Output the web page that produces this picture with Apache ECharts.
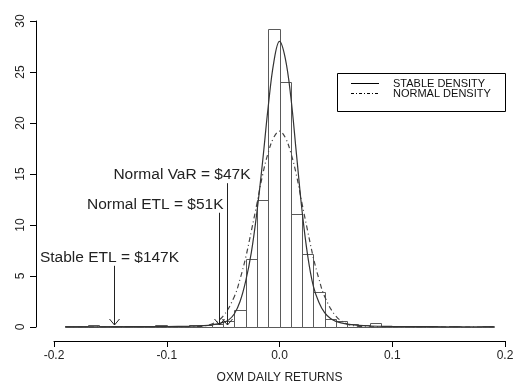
<!DOCTYPE html>
<html>
<head>
<meta charset="utf-8">
<script src="https://cdn.jsdelivr.net/npm/echarts@6/dist/echarts.min.js"></script>
<style>html,body{margin:0;padding:0;background:#fff}#c{width:515px;height:386px}</style>
</head>
<body>
<div id="c"></div>
<script>
// ---- data ----
var binLeft = [-0.19,-0.18,-0.17,-0.16,-0.15,-0.14,-0.13,-0.12,-0.11,-0.10,-0.09,-0.08,-0.07,-0.06,-0.05,-0.04,-0.03,-0.02,-0.01,0.00,0.01,0.02,0.03,0.04,0.05,0.06,0.07,0.08,0.09,0.10,0.11,0.12,0.13,0.14,0.15,0.16,0.17,0.18];
var binHeight = [0.1,0.1,0.2,0.1,0.1,0,0.1,0.1,0.2,0.1,0.1,0.15,0.2,0.3,0.6,1.7,6.7,12.5,29.2,24.0,11.1,7.2,3.4,0.8,0.6,0.3,0.2,0.4,0.1,0.1,0.05,0,0.05,0,0.05,0,0,0.05];
var binWidth = 0.01;

var stableX = [-0.19,-0.15,-0.12,-0.1,-0.08,-0.07,-0.06,-0.05,-0.045,-0.04,-0.035,-0.03,-0.025,-0.02,-0.015,-0.01,-0.005,0,0.005,0.01,0.015,0.02,0.025,0.03,0.035,0.04,0.045,0.05,0.06,0.07,0.08,0.1,0.12,0.15,0.19];
var stableY = [0.01,0.02,0.04,0.05,0.08,0.12,0.2,0.45,0.7,1.3,2.5,4.5,7.3,11.3,16.2,21.6,26.0,28.0,26.4,22.6,17.0,11.4,7.0,4.0,2.4,1.4,0.85,0.55,0.28,0.16,0.1,0.06,0.04,0.02,0.01];

var normalX = [-0.19,-0.1,-0.08,-0.07,-0.06,-0.05,-0.04,-0.035,-0.03,-0.025,-0.02,-0.015,-0.01,-0.005,0,0.005,0.01,0.015,0.02,0.025,0.03,0.035,0.04,0.05,0.06,0.07,0.08,0.1,0.19];
var normalY = [0,0,0.01,0.07,0.3,1.07,3.0,4.7,6.8,9.4,12.1,14.9,17.1,18.6,19.2,18.6,17.1,14.9,12.1,9.4,6.8,4.7,3.0,1.07,0.3,0.07,0.01,0,0];

var annX = [-0.147, -0.054, -0.047];
var annTop = [6.0, 11.2, 14.1];
var annLabel = ['Stable ETL = $147K', 'Normal ETL = $51K', 'Normal VaR = $47K'];

var xTicks = [-0.2, -0.1, 0.0, 0.1, 0.2];
var xTickLabels = ['-0.2', '-0.1', '0.0', '0.1', '0.2'];
var yTicks = [0, 5, 10, 15, 20, 25, 30];
var legendNames = ['STABLE DENSITY', 'NORMAL DENSITY'];

// ---- build ----
var FONT = "'Liberation Sans', Arial, sans-serif";
var histData = binLeft.map(function (x, i) { return [x, x + binWidth, binHeight[i]]; });
var stableData = stableX.map(function (x, i) { return [x, stableY[i]]; });
var normalData = normalX.map(function (x, i) { return [x, normalY[i]]; });
var annData = annX.map(function (x, i) { return [x, annTop[i], i]; });
var annTextStyle = [
  { dx: -5, align: 'center' },
  { dx: 4, align: 'right' },
  { dx: 23, align: 'right' }
];
var DASHDOT = [5, 3, 1, 3];

var chart = echarts.init(document.getElementById('c'), null, { renderer: 'canvas' });
chart.setOption({
  animation: false,
  backgroundColor: '#fff',
  textStyle: { fontFamily: FONT },
  grid: { left: 54, right: 10, top: 21, bottom: 59, containLabel: false, outerBoundsMode: 'none' },
  xAxis: {
    type: 'value', min: -0.2, max: 0.2, interval: 0.1, offset: 14,
    name: 'OXM DAILY RETURNS', nameLocation: 'middle', nameGap: 31,
    nameTextStyle: { fontSize: 12, color: '#222', fontFamily: FONT },
    axisLine: { show: true, onZero: false, lineStyle: { color: '#000', width: 1 } },
    axisTick: { show: true, length: 6, lineStyle: { color: '#000' } },
    axisLabel: { fontSize: 12, color: '#222', margin: 9, fontFamily: FONT,
      formatter: function (v) { var i = xTicks.findIndex(function (t) { return Math.abs(t - v) < 1e-9; }); return i >= 0 ? xTickLabels[i] : ''; } },
    splitLine: { show: false }
  },
  yAxis: {
    type: 'value', min: 0, max: 30, interval: 5, offset: 18,
    axisLine: { show: true, onZero: false, lineStyle: { color: '#000', width: 1 } },
    axisTick: { show: true, length: 6, lineStyle: { color: '#000' } },
    axisLabel: { fontSize: 12, color: '#222', rotate: 90, margin: 9, fontFamily: FONT },
    splitLine: { show: false }
  },
  graphic: [
    { type: 'rect', shape: { x: 337.5, y: 73.5, width: 168, height: 38 }, style: { fill: '#fff', stroke: '#000', lineWidth: 1 }, z: 10 },
    { type: 'line', shape: { x1: 351, y1: 83.5, x2: 379, y2: 83.5 }, style: { stroke: '#000', lineWidth: 1 }, z: 11 },
    { type: 'line', shape: { x1: 351, y1: 93.5, x2: 379, y2: 93.5 }, style: { stroke: '#000', lineWidth: 1, lineDash: [3, 2, 1, 2] }, z: 11 },
    { type: 'text', x: 393, y: 84, style: { text: legendNames[0], fontSize: 11, fontFamily: FONT, fill: '#111', verticalAlign: 'middle' }, z: 11 },
    { type: 'text', x: 393, y: 94, style: { text: legendNames[1], fontSize: 11, fontFamily: FONT, fill: '#111', verticalAlign: 'middle' }, z: 11 }
  ],
  series: [
    {
      type: 'custom', name: 'hist', z: 2,
      data: histData,
      encode: { x: [0, 1], y: 2 },
      renderItem: function (params, api) {
        var p0 = api.coord([api.value(0), api.value(2)]);
        var p1 = api.coord([api.value(1), 0]);
        return {
          type: 'rect',
          shape: { x: Math.round(p0[0]) + 0.5, y: Math.round(p0[1]) + 0.5, width: Math.round(p1[0]) - Math.round(p0[0]), height: Math.round(p1[1]) - Math.round(p0[1]) },
          style: { fill: null, stroke: '#5a5a5a', lineWidth: 1 }
        };
      }
    },
    {
      type: 'line', name: legendNames[0], z: 4, data: stableData, smooth: 0.4,
      showSymbol: false, symbol: 'none',
      lineStyle: { color: '#333', width: 1.2, type: 'solid' }
    },
    {
      type: 'line', name: legendNames[1], z: 3, data: normalData, smooth: 0.4,
      showSymbol: false, symbol: 'none',
      lineStyle: { color: '#444', width: 1.2, type: DASHDOT }
    },
    {
      type: 'custom', name: 'ann', z: 5,
      data: annData,
      encode: { x: 0, y: 1 },
      renderItem: function (params, api) {
        var i = api.value(2);
        var top = api.coord([api.value(0), api.value(1)]);
        var bot = api.coord([api.value(0), 0]);
        var x = Math.round(top[0]) + 0.5;
        var yb = bot[1] - 2;
        var st = annTextStyle[i];
        return {
          type: 'group',
          children: [
            { type: 'line', shape: { x1: x, y1: top[1], x2: x, y2: yb }, style: { stroke: '#222', lineWidth: 1 } },
            { type: 'polyline', shape: { points: [[x - 5, yb - 6], [x, yb], [x + 5, yb - 6]] }, style: { stroke: '#222', lineWidth: 1, fill: null } },
            { type: 'text', x: x + st.dx, y: top[1] - 8,
              style: { text: annLabel[i], fontSize: 15.5, fontFamily: FONT, fill: '#222', align: st.align, verticalAlign: 'middle' } }
          ]
        };
      }
    }
  ]
});
</script>
</body>
</html>
